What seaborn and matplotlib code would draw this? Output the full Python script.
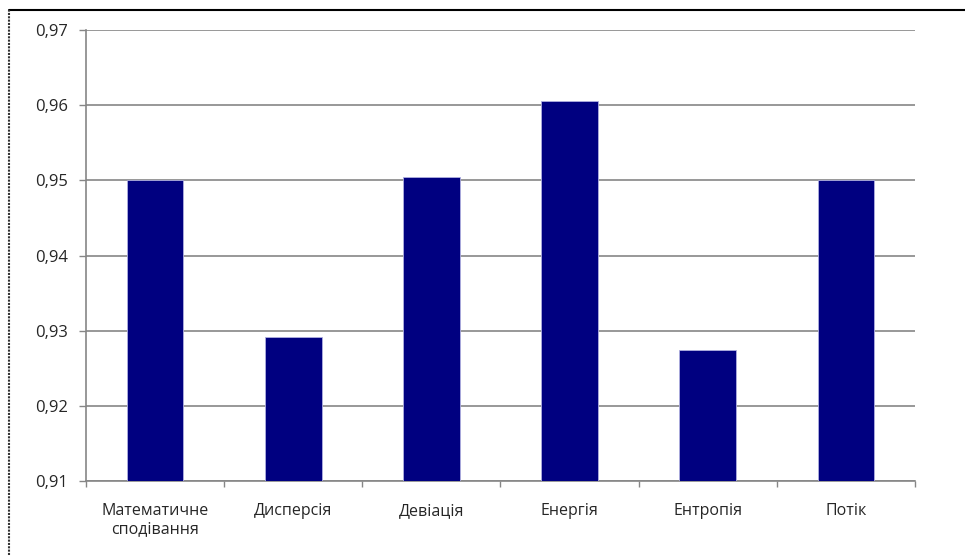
import matplotlib
matplotlib.use("Agg")
import matplotlib.pyplot as plt
import seaborn as sns
import pandas as pd
from matplotlib.lines import Line2D
from matplotlib.ticker import FixedLocator

# Chart data
categories = ["Математичне\nсподівання", "Дисперсія", "Девіація", "Енергія", "Ентропія", "Потік"]
values = [0.9500, 0.9292, 0.9504, 0.9605, 0.9274, 0.9500]
y_ticks = [0.91, 0.92, 0.93, 0.94, 0.95, 0.96, 0.97]

df = pd.DataFrame({"Category": categories, "Value": values})

sns.set_style("white")
plt.rcParams["font.family"] = ["Open Sans", "DejaVu Sans"]

fig = plt.figure(figsize=(9.65, 5.55), dpi=100)
ax = fig.add_axes([86 / 965, 1 - 481 / 555, (915 - 86) / 965, (481 - 30) / 555])

sns.barplot(data=df, x="Category", y="Value", color="#000080", width=0.41,
            edgecolor="#b0b0e0", linewidth=0.6, saturation=1, ax=ax, zorder=3)

ax.set_ylim(0.91, 0.97)
ax.set_xlim(-0.5, len(categories) - 0.5)
ax.set_yticks(y_ticks)
ax.set_yticklabels([f"{t:.2f}".replace(".", ",") for t in y_ticks], fontsize=12)
ax.yaxis.grid(True, color="#868686", linewidth=1.2, zorder=0)
ax.set_axisbelow(True)

# category boundaries as ticks on the x axis
ax.xaxis.set_minor_locator(FixedLocator([i + 0.5 for i in range(-1, len(categories))]))
ax.tick_params(axis="x", which="major", length=0, labelsize=11.5, pad=16)
ax.tick_params(axis="x", which="minor", length=4, width=1, color="#868686", direction="out", bottom=True)
ax.tick_params(axis="y", length=5, width=1, color="#868686", direction="out", left=True, pad=8)
ax.set_xlabel("")
ax.set_ylabel("")

for side in ["top", "right"]:
    ax.spines[side].set_visible(False)
for side in ["left", "bottom"]:
    ax.spines[side].set_color("#868686")
    ax.spines[side].set_linewidth(1.2)

# outer frame of the picture (top and left edges)
fig.add_artist(Line2D([9 / 965, 1], [1 - 10 / 555, 1 - 10 / 555], color="black", linewidth=1.5))
fig.add_artist(Line2D([9 / 965, 9 / 965], [0, 1 - 10 / 555], color="#333333", linewidth=1.5,
                      linestyle=(0, (1, 0.6))))

fig.savefig("out.png", dpi=100)
